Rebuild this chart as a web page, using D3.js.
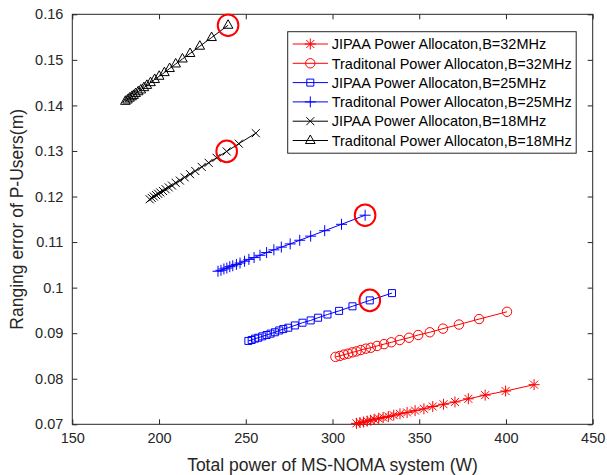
<!DOCTYPE html>
<html><head><meta charset="utf-8">
<script src="https://cdn.jsdelivr.net/npm/d3@7"></script>
<style>body{margin:0;background:#fff}text{font-family:Arial,"Liberation Sans",sans-serif;}</style>
</head><body><svg id="c" width="607" height="475"></svg>
<script>
const xTicks=[150,200,250,300,350,400,450];
const yTicks=[0.07,0.08,0.09,0.1,0.11,0.12,0.13,0.14,0.15,0.16];
const yTickLabels=["0.07","0.08","0.09","0.1","0.11","0.12","0.13","0.14","0.15","0.16"];
const seriesNames=["JIPAA Power Allocaton,B=32MHz","Traditonal Power Allocaton,B=32MHz","JIPAA Power Allocaton,B=25MHz","Traditonal Power Allocaton,B=25MHz","JIPAA Power Allocaton,B=18MHz","Traditonal Power Allocaton,B=18MHz"];
const seriesColors=["#ff0000","#ff0000","#0000ff","#0000ff","#000000","#000000"];
const seriesMarkers=["star","circle","square","plus","x","triangle"];
// JIPAA 32MHz
const jipaa32X=[313.8,315.8,317.9,320.0,322.0,324.0,326.6,329.2,332.2,335.3,338.9,343.0,347.6,352.7,357.8,364.0,370.6,378.3,388.0,399.8,416.2];
const jipaa32Y=[0.0702,0.0704,0.0705,0.0707,0.0709,0.0711,0.0713,0.0715,0.0717,0.0720,0.0723,0.0726,0.0730,0.0734,0.0739,0.0744,0.0749,0.0756,0.0764,0.0773,0.0787];
// Traditional 32MHz
const trad32X=[301.7,304.2,306.6,309.0,311.5,313.8,316.3,319.2,322.1,325.7,329.7,333.9,338.8,344.1,349.4,356.1,363.7,372.9,384.5,400.6];
const trad32Y=[0.0848,0.0850,0.0853,0.0855,0.0858,0.0860,0.0863,0.0866,0.0868,0.0872,0.0876,0.0880,0.0885,0.0890,0.0896,0.0902,0.0910,0.0919,0.0931,0.0947];
// JIPAA 25MHz
const jipaa25X=[251.5,253.4,255.3,257.2,259.5,262.0,264.3,266.8,269.3,271.6,274.5,278.3,282.7,287.4,291.7,297.1,303.8,311.5,321.5,334.3];
const jipaa25Y=[0.0883,0.0885,0.0888,0.0890,0.0893,0.0896,0.0899,0.0902,0.0906,0.0909,0.0912,0.0917,0.0923,0.0928,0.0934,0.0941,0.0949,0.0959,0.0972,0.0988];
// Traditional 25MHz
const trad25X=[234.0,235.7,237.4,239.1,240.8,242.5,244.6,246.7,249.3,251.8,254.8,258.2,262.0,266.2,270.5,275.6,281.1,287.4,295.5,305.2,318.8];
const trad25Y=[0.1036,0.1038,0.1041,0.1043,0.1046,0.1048,0.1051,0.1054,0.1058,0.1062,0.1066,0.1071,0.1077,0.1083,0.1089,0.1096,0.1104,0.1113,0.1125,0.1139,0.1159];
// JIPAA 18MHz
const jipaa18X=[194.6,195.8,197.0,198.3,199.5,200.7,202.3,203.8,205.6,207.5,209.6,212.0,214.8,217.9,220.9,224.6,228.6,233.2,239.0,246.0,255.8];
const jipaa18Y=[0.1194,0.1197,0.1200,0.1203,0.1206,0.1209,0.1212,0.1216,0.1220,0.1224,0.1230,0.1235,0.1242,0.1249,0.1256,0.1265,0.1274,0.1285,0.1299,0.1316,0.1339];
// Traditional 18MHz
const trad18X=[180.6,181.8,183.0,184.2,185.3,186.5,188.0,189.5,191.3,193.0,195.1,197.5,200.1,203.1,206.1,209.6,213.5,217.9,223.5,230.3,239.8];
const trad18Y=[0.1409,0.1412,0.1416,0.1419,0.1422,0.1426,0.1430,0.1434,0.1439,0.1444,0.1450,0.1457,0.1464,0.1472,0.1481,0.1491,0.1502,0.1514,0.1530,0.1549,0.1576];
// highlighted points: [series index, point index]
const highlights=[[5,20],[4,18],[3,20],[2,18]];

const seriesX=[jipaa32X,trad32X,jipaa25X,trad25X,jipaa18X,trad18X];
const seriesY=[jipaa32Y,trad32Y,jipaa25Y,trad25Y,jipaa18Y,trad18Y];

const svg=d3.select("#c");
const L=72.3,R=592.7,T=14.3,B=424.3;
const x=d3.scaleLinear().domain([150,450]).range([L,R]);
const y=d3.scaleLinear().domain([0.07,0.16]).range([B,T]);
const axc="#262626";

svg.append("rect").attr("x",0).attr("y",0).attr("width",607).attr("height",475).attr("fill","#fff");

function styleAxis(g,showLabels){
  g.select(".domain").remove();
  g.selectAll(".tick line").attr("stroke",axc).attr("stroke-width",1);
  g.selectAll(".tick text").attr("fill",axc).attr("font-size","14.5px").attr("font-family","Arial, 'Liberation Sans', sans-serif");
  if(!showLabels) g.selectAll(".tick text").remove();
}
svg.append("g").attr("transform",`translate(0,${B})`).call(d3.axisBottom(x).tickValues(xTicks).tickSize(-5).tickPadding(8).tickFormat(d3.format("d"))).call(g=>styleAxis(g,true));
svg.append("g").attr("transform",`translate(0,${T})`).call(d3.axisTop(x).tickValues(xTicks).tickSize(-5)).call(g=>styleAxis(g,false));
svg.append("g").attr("transform",`translate(${L},0)`).call(d3.axisLeft(y).tickValues(yTicks).tickSize(-5).tickPadding(9).tickFormat((d,i)=>yTickLabels[i])).call(g=>styleAxis(g,true));
svg.append("g").attr("transform",`translate(${R},0)`).call(d3.axisRight(y).tickValues(yTicks).tickSize(-5)).call(g=>styleAxis(g,false));
svg.append("rect").attr("x",L).attr("y",T).attr("width",R-L).attr("height",B-T).attr("fill","none").attr("stroke",axc).attr("stroke-width",1);

function markerPath(type){
  switch(type){
    case "star": {const r=5.5,d=4;return `M${-r},0L${r},0M0,${-r}L0,${r}M${-d},${-d}L${d},${d}M${-d},${d}L${d},${-d}`;}
    case "circle": {const r=4.7;return `M${r},0A${r},${r} 0 1,1 ${-r},0A${r},${r} 0 1,1 ${r},0Z`;}
    case "square": {const s=3.5;return `M${-s},${-s}L${s},${-s}L${s},${s}L${-s},${s}Z`;}
    case "plus": {const r=5.5;return `M${-r},0L${r},0M0,${-r}L0,${r}`;}
    case "x": {const d=4;return `M${-d},${-d}L${d},${d}M${-d},${d}L${d},${-d}`;}
    case "triangle": {const r=5.5;return `M0,${-r}L${r*0.87},${r*0.55}L${-r*0.87},${r*0.55}Z`;}
  }
}

const line=d3.line().x(d=>x(d[0])).y(d=>y(d[1]));
seriesX.forEach((xs,i)=>{
  const pts=xs.map((v,j)=>[v,seriesY[i][j]]);
  const g=svg.append("g");
  g.append("path").attr("d",line(pts)).attr("fill","none").attr("stroke",seriesColors[i]).attr("stroke-width",1);
  g.selectAll("path.m").data(pts).join("path").attr("class","m")
    .attr("transform",d=>`translate(${x(d[0])},${y(d[1])})`)
    .attr("d",markerPath(seriesMarkers[i])).attr("fill","none").attr("stroke",seriesColors[i]).attr("stroke-width",1);
});

highlights.forEach(([si,pi])=>{
  svg.append("ellipse").attr("cx",x(seriesX[si][pi])).attr("cy",y(seriesY[si][pi]))
    .attr("rx",10.3).attr("ry",10.8).attr("fill","none").attr("stroke","#ff0000").attr("stroke-width",2);
});

// legend
const lg=svg.append("g");
const lx=287.7,ly=31.7,lw=288.5,lh=121.5;
lg.append("rect").attr("x",lx).attr("y",ly).attr("width",lw).attr("height",lh).attr("fill","#fff").attr("stroke",axc).attr("stroke-width",1);
seriesNames.forEach((n,i)=>{
  const yy=44+i*19.3;
  lg.append("line").attr("x1",292.7).attr("x2",328).attr("y1",yy).attr("y2",yy).attr("stroke",seriesColors[i]).attr("stroke-width",1);
  lg.append("path").attr("transform",`translate(310.3,${yy})`).attr("d",markerPath(seriesMarkers[i])).attr("fill","none").attr("stroke",seriesColors[i]).attr("stroke-width",1);
  lg.append("text").attr("x",331.7).attr("y",yy).attr("dy","0.36em").attr("font-size","14.5px").attr("fill","#000").text(n);
});

svg.append("text").attr("x",(L+R)/2).attr("y",471).attr("text-anchor","middle").attr("font-size","17.5px").attr("fill",axc).text("Total power of MS-NOMA system (W)");
svg.append("text").attr("transform",`translate(23,${(T+B)/2}) rotate(-90)`).attr("text-anchor","middle").attr("font-size","17.5px").attr("fill",axc).text("Ranging error of P-Users(m)");
</script></body></html>
